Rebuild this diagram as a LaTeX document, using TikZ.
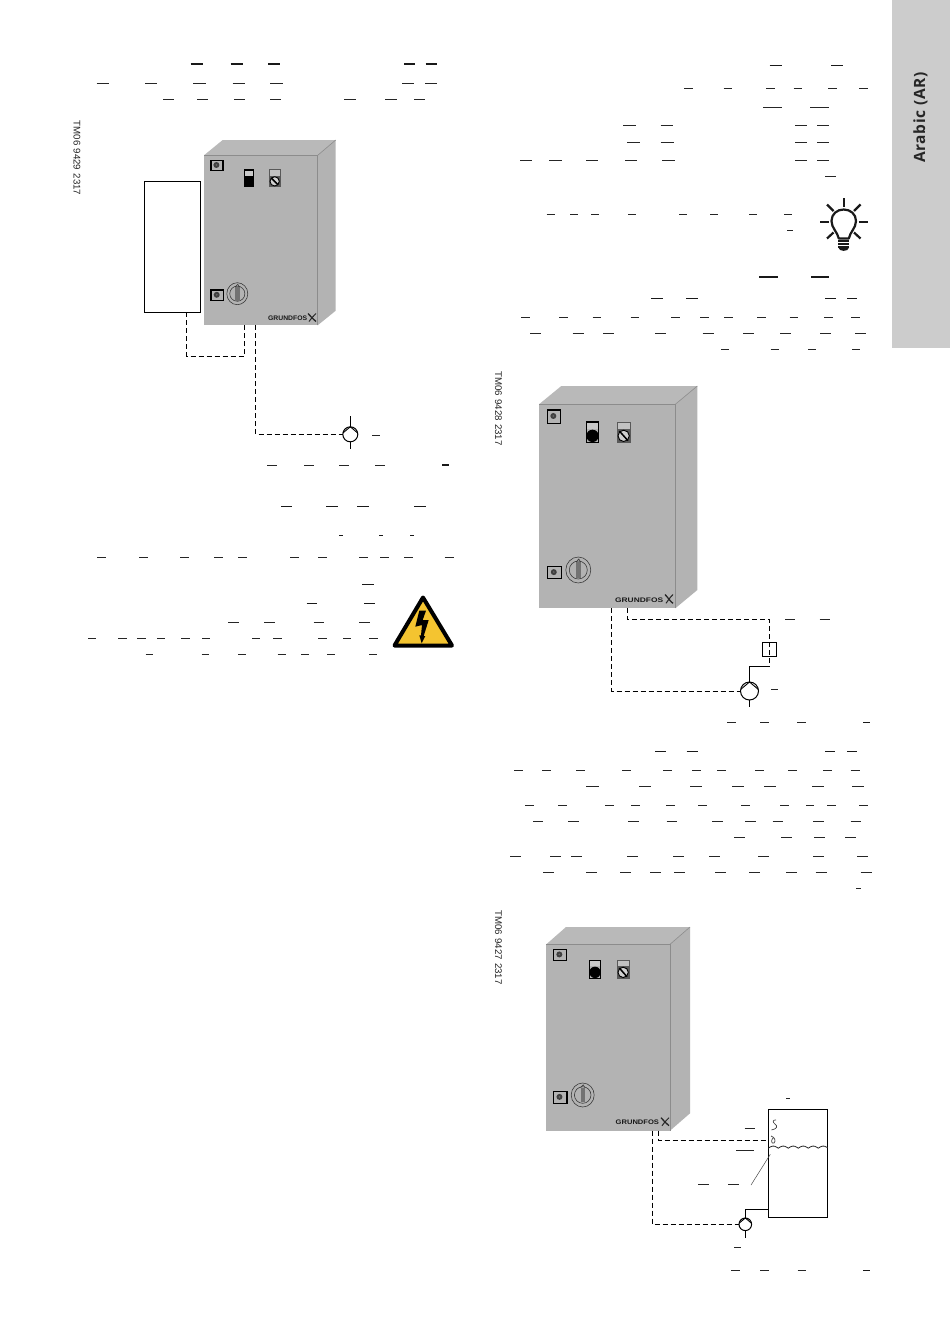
\documentclass[tikz,border=0pt]{standalone}
\usepackage{fontspec}
\usepackage{graphicx}
\setmainfont{Liberation Sans}
\newfontfamily\tabfont[LetterSpace=4]{Open Sans}
\usetikzlibrary{calc}
\definecolor{cabgray}{HTML}{B3B3B3}
\definecolor{cabedge}{HTML}{8C8C8C}
\definecolor{tabgray}{HTML}{CCCCCC}
\definecolor{warnyellow}{HTML}{F4C430}
\tikzset{
  txtdash/.style={line width=0.9pt,black!85},
  txtdashb/.style={line width=1.5pt,black!90},
  wire/.style={line width=0.9pt,black,dash pattern=on 5pt off 3pt},
  pipe/.style={line width=1pt,black},
  cabfront/.style={fill=cabgray,inner sep=0,outer sep=0},
  codetext/.style={rotate=-90,font=\fontsize{9.7}{10}\selectfont,text=black!85,inner sep=0},
  pumpsym/.style={circle,draw=black,fill=white,line width=1pt,inner sep=0,outer sep=0},
  boxw/.style={draw=black,fill=white,line width=1pt,inner sep=0,outer sep=0},
  ctrlline/.style={line width=0.55pt,black!80},
  chevron/.style={line width=0.9pt,black}
}
% #1 left #2 right #3 top #4 bottom #5 back-left #6 back-right #7 back-top #8 back-bottom #9 name
\newcommand\cabinetbody[9]{
  \fill[cabgray!92!white] (#1,#3) -- (#5,#7) -- (#6,#7) -- (#2,#3) -- cycle;
  \fill[cabgray] (#2,#3) -- (#6,#7) -- (#6,#8) -- (#2,#4) -- cycle;
  \node[cabfront,anchor=north west,minimum width={#2-#1},minimum height={#4-#3}] (#9) at (#1,#3) {};
  \draw[cabedge,line width=0.8pt] (#1,#3) -- (#2,#3) -- (#2,#4);
  \draw[cabedge,line width=0.6pt] (#2,#3) -- (#6,#7);
}
% x0 y0 x1 y1
\newcommand\sqbtn[4]{
  \draw[black,line width=1.2pt,fill=cabgray] (#1,#2) rectangle (#3,#4);
  \fill[black!75] ($(#1,#2)!0.45!(#3,#4)$) circle (3);
  \fill[cabgray!60!black] ($(#1,#2)!0.45!(#3,#4)$) circle (0.9);
}
\newcommand\indicatorbar[5]{
  \fill[cabgray!70!white] (#1,#2) rectangle (#3,#5);
  \fill[black] (#1,#5) rectangle (#3,#4);
  \draw[black,line width=1.1pt] (#1,#2) rectangle (#3,#4);
}
\newcommand\indicatorround[5]{
  \fill[cabgray!70!white] (#1,#2) rectangle (#3,#5);
  \draw[black,line width=1.1pt] (#1,#2) rectangle (#3,#4);
  \fill[black] ({(#1+#3)/2},{(#5+#4)/2}) circle ({(#3-#1)/2});
}
\newcommand\gaugesym[5]{
  \fill[cabgray!80!white] (#1,#2) rectangle (#3,#5);
  \fill[cabgray!50!black] (#1,#5) rectangle (#3,#4);
  \draw[black!65,line width=1pt] (#1,#2) rectangle (#3,#4);
  \draw[black,fill=cabgray!60!white,line width=0.9pt] ({(#1+#3)/2},{(#5+#4)/2}) circle ({(#3-#1)/2-0.7});
  \draw[black,line width=1.5pt] ({#1+2},{#5+2}) -- ({#3-2},{#4-2});
}
% cx cy rx ry
\newcommand\knobsym[4]{
  \draw[ctrlline] (#1,#2) ellipse ({#3} and {#4});
  \draw[ctrlline] (#1,#2) circle ({#3*0.72});
  \fill[black!55] ({#1-2.2},{#2-#4*0.62}) rectangle ({#1+2.2},{#2+#4*0.62});
  \draw[ctrlline] ({#1-2.2},{#2-#4*0.62}) -- ({#1+0.5},{#2-#4*0.85}) -- ({#1+2.2},{#2-#4*0.62});
}
\newcommand\logosym[7]{
  \node[inner sep=0,text=black!90] at ({(#1+#2)/2},#3) {\resizebox{#4pt}{4.6pt}{\textbf{GRUNDFOS}}};
  \draw[black!85,line width=1.3pt] (#5,#6) .. controls ({#5+3},{#6+3}) and ({#5+5},{#7-2}) .. ({#5+8},#7);
  \draw[black!85,line width=1pt] ({#5+8},#6) .. controls ({#5+5},{#6+3}) and ({#5+3},{#7-3}) .. ({#5+1},#7);
}
\newcommand\txt[3]{\foreach \a/\b in {#3} {\draw[#1] (\a,#2) -- (\b,#2);}}
\begin{document}
\begin{tikzpicture}[x=1pt,y=-1pt]
\useasboundingbox (0,0) rectangle (950,1344);
\fill[white] (0,0) rectangle (950,1344);
% side tab
\fill[tabgray] (891.7,0) rectangle (950,348);
\node[rotate=90,inner sep=0,text=black!85,font=\tabfont\bfseries\fontsize{15.5}{18}\selectfont] (tabtext) at (920.5,117.5) {Arabic (AR)};

% --- cabinet 1
\node[codetext] (code1) at (77,158) {TM06\,\,9429\,\,2317};
\cabinetbody{204}{317.7}{155.3}{325.3}{222.7}{335.7}{140}{310.7}{cab1}
\sqbtn{211}{160.3}{223}{170.7}
\indicatorbar{244.3}{170}{253.7}{186.7}{176}
\gaugesym{269.3}{169.3}{280}{186.7}{176}
\sqbtn{211}{290}{223.7}{300.7}
\knobsym{237.3}{293.7}{10.5}{11}
\logosym{268}{307.3}{318.7}{39}{308}{313.5}{321.5}
\node[boxw,anchor=north west,minimum width=56pt,minimum height=131pt] (ctrl1) at (144.3,181.3) {};
\node[pumpsym,minimum size=15pt] (pump1) at (350.3,434.3) {};
\draw[chevron] (pump1.170) -- (pump1.north) -- (pump1.10);
\coordinate (a1) at (186.3,312.3);
\coordinate (a2) at (186.3,356);
\coordinate (a3) at (244.7,356);
\coordinate (a4) at (244.7,325.3);
\coordinate (a5) at (255.7,325.3);
\coordinate (a6) at (255.7,434.3);
\coordinate (p1t) at (350.3,416);
\coordinate (p1b) at (350.3,449);
\draw[wire] (a1) -- (a2) -- (a3) -- (a4);
\draw[wire] (a5) -- (a6) -- (pump1.west);
\draw[pipe] (p1t) -- (pump1.north);
\draw[pipe] (pump1.south) -- (p1b);

% text lines, left column
\txt{txtdashb}{64}{190.7/202.7,230.7/242.7,268/280,404/414.7,425.7/436.7}
\txt{txtdash}{83}{96.7/108.7,145/157,193.3/205.7,232.7/245,270/282.7,402.3/414,425/437.3}
\txt{txtdash}{99.3}{163.3/174.3,197/208,234/245,270/280.7,344.3/356,385/396.7,414/425.3}
\txt{txtdash}{435.7}{372.3/379.7}
\txt{txtdash}{465}{267.3/277.3,304/314,339/349,375.3/385.3}
\txt{txtdashb}{465}{442.3/449.3}
\txt{txtdashb}{506.7}{281/292.3,326.3/337.7,357.3/368.7,414.3/425.7}
\txt{txtdashb}{535.7}{339.3/343,379.3/383,410/413.7}
\txt{txtdash}{557.7}{97/106,139.3/148.3,180/189.3,214.3/223.3,238.3/247.3,290.3/299.3,318.3/327.3,359.3/368.3,380.3/389.3,404/413,444.7/453.7}
\txt{txtdashb}{584.3}{362/374}
\txt{txtdashb}{603.3}{306.7/317,364.3/374.7}
\txt{txtdash}{622.7}{228.3/239.3,264.3/275,313.7/324.3,359/369.7}
\txt{txtdash}{638.3}{88/96,118/126.7,137/145.7,157/165.3,181/189.7,202/210.3,252/260.3,273/281.7,318.3/326.7,343/351.3,369.3/377.7}
\txt{txtdash}{654.3}{145.7/153.3,201.7/209.3,238.3/246,277.7/285.7,301.3/309,327.3/335,369/376.7}

% warning sign
\draw[black,line width=4pt,line join=round,fill=warnyellow] (423,597.5) -- (394.5,645.5) -- (452,645.5) -- cycle;
\fill[black] (419.3,610.7) -- (426,610.7) -- (422.7,620) -- (428.7,620) -- (423.7,636) -- (425.3,636) -- (421.7,643.3) -- (419.3,635.3) -- (421,635.3) -- (422,625) -- (415.3,626.7) -- cycle;

% text lines, right column top
\txt{txtdashb}{65.7}{769.7/781.7,831.3/843}
\txt{txtdash}{88.7}{684.3/692.7,723.7/732.3,766.3/775,793.7/802,828/836.7,859.3/868}
\txt{txtdash}{107.7}{763/782.3,810/829.3}
\txt{txtdash}{125.7}{623.3/636,660.7/673.3,795/806.7,817.3/829}
\txt{txtdash}{142.3}{627.3/640.3,660.7/673.7,795/806.7,817.3/829}
\txt{txtdash}{160.3}{520/532,549.3/561.7,586/598.3,625.3/637.3,662.3/674.7,795/806.7,817.3/829}
\txt{txtdash}{176.7}{825/835.7}
\txt{txtdash}{214.7}{546.7/554.7,570.3/578,591/599,628/636,679.3/687,710.3/718.3,749/756.7,784.3/792}
\txt{txtdash}{230.7}{787.3/793}
\txt{txtdashb}{277}{759.3/777.7,811.3/829.3}
\txt{txtdashb}{298.3}{651/663,686.3/698,825.3/835.7,847/857.3}
\txt{txtdash}{317.7}{521.3/529.7,559/567.7,592.7/601,630.7/639,671.3/680,700.3/708.7,724.3/732.7,757.3/765.7,789.7/798,824.3/832.7,851.3/859.7}
\txt{txtdash}{333.7}{530/541,572.7/583.7,603.3/614.3,655/666,702.7/713.7,743.3/754.3,780.3/791.3,820.3/831.3,855.3/866.3}
\txt{txtdash}{349.7}{721/729.3,770.7/779,808/816.3,852/860.3}

% light bulb
\draw[black!90,line width=2.2pt,line cap=butt] (843.7,198) -- (843.7,206.7);
\draw[black!90,line width=2.2pt] (820,221.7) -- (829,221.7);
\draw[black!90,line width=2.2pt] (858.7,221.7) -- (867.7,221.7);
\draw[black!90,line width=2.2pt] (827,204.5) -- (833.5,211);
\draw[black!90,line width=2.2pt] (860.5,204.5) -- (854,211);
\draw[black!90,line width=2.2pt] (827,238.5) -- (833.5,232.5);
\draw[black!90,line width=2.2pt] (860.5,238.5) -- (854,232.5);
\draw[black!90,line width=2.2pt,line join=round] (838.8,238.5) .. controls (837.5,232) and (831.5,228) .. (831.5,221) .. controls (831.5,214) and (837,209.5) .. (843.7,209.5) .. controls (850.4,209.5) and (856,214) .. (856,221) .. controls (856,228) and (850,232) .. (848.8,238.5) -- cycle;
\foreach \yy in {240.6,243.6,246.6} {\draw[black!90,line width=2.2pt] (838,\yy) -- (849.4,\yy);}
\fill[black!90] (838.3,247.5) .. controls (839,252) and (848.4,252) .. (849.1,247.5) -- cycle;

% --- cabinet 2
\node[codetext] (code2) at (498.5,408.5) {TM06\,\,9428\,\,2317};
\cabinetbody{539}{675.3}{404.3}{608.3}{561.3}{697.3}{386}{590}{cab2}
\sqbtn{547.3}{410}{560.7}{423.3}
\indicatorround{586.3}{422}{598.7}{442.7}{429}
\gaugesym{617.3}{422}{630}{442.7}{429}
\sqbtn{547.3}{566.7}{561.7}{578.7}
\knobsym{578.3}{570}{12.5}{13}
\logosym{615}{663.3}{600.3}{48}{665}{594.5}{603.3}
\node[pumpsym,minimum size=18pt] (pump2) at (749.5,691) {};
\draw[chevron] (pump2.170) -- (pump2.north) -- (pump2.10);
\node[draw=black,line width=1pt,minimum width=14.4pt,minimum height=14pt,inner sep=0,outer sep=0] (flow2) at (769.5,649.3) {};
\coordinate (b1) at (611.3,608.3);
\coordinate (b2) at (611.3,691);
\coordinate (b3) at (627.3,608.3);
\coordinate (b4) at (627.3,619.3);
\coordinate (b5) at (769.3,619.3);
\coordinate (b6) at (769.3,666.7);
\coordinate (b7) at (749.5,666.7);
\coordinate (p2b) at (749.5,707.3);
\draw[wire] (b1) -- (b2) -- (pump2.west);
\draw[wire] (b3) -- (b4) -- (b5) -- (b6);
\draw[pipe] (b6) -- (b7) -- (pump2.north);
\draw[pipe] (pump2.south) -- (p2b);
\txt{txtdash}{619.3}{785.3/795.3,819.7/829.7}
\txt{txtdash}{689.3}{771/778.3}
\txt{txtdash}{722.3}{727.3/736.3,760.3/769.3,797.3/806.3}
\txt{txtdashb}{722.3}{863/870}

% text block middle right
\txt{txtdashb}{751.3}{655.3/666.3,686.7/698,825/835.3,847/857}
\txt{txtdash}{770.7}{514/523,542.3/551.3,576/585.3,622/631,663.3/672.3,692.3/701.3,717/726,755/764,788.3/797.3,823/832,850.7/859.7}
\txt{txtdash}{786.7}{586.3/598.7,639.3/651.3,690/702,732.3/744.3,764.3/776.3,812/824,852/864}
\txt{txtdash}{805.7}{525/533.7,558/566.7,605.3/614,631.3/639.7,666/675,698.3/707,741.3/750,780/788.7,806/814,827.3/836,859.3/868}
\txt{txtdash}{821.7}{533/543.3,568/578.7,628.3/638.7,666.7/677.3,712.3/723,745.3/756,772.7/783.3,813.3/824,850.7/861.3}
\txt{txtdash}{837.7}{734/744.7,781.3/792,814.3/825.3,845.3/856}
\txt{txtdash}{856.7}{510.3/521.3,550/560.7,571.3/582.3,627/638,673.3/684,709/720,758.3/769,813/823.7,857.3/868}
\txt{txtdash}{872.7}{543/554,586/597,620.3/631.3,650.3/661,674/685,715/725.7,749.3/760.3,786.3/797.3,815.7/826.7,860.7/871.7}
\txt{txtdash}{888.7}{856/860.7}

% --- cabinet 3
\node[codetext] (code3) at (498.5,947.5) {TM06\,\,9427\,\,2317};
\cabinetbody{546.3}{670}{944.3}{1130.7}{566}{690}{927}{1113.3}{cab3}
\sqbtn{553.3}{949.3}{566.7}{960.7}
\indicatorround{589.3}{960.3}{600.7}{978.7}{966}
\gaugesym{617.3}{960}{629}{978.7}{966}
\sqbtn{553.3}{1091.3}{567}{1103.7}
\knobsym{582.7}{1095}{11.5}{12}
\logosym{615.7}{659}{1122.7}{43.3}{661}{1117.7}{1125.7}
\node[boxw,line width=0.9pt,anchor=north west,minimum width=59.4pt,minimum height=108pt] (tank3) at (768.3,1109.3) {};
\draw[black!85,line width=0.8pt] plot[domain=768.3:827.7,samples=120] (\x,{1148.2-2.1*abs(sin((\x-768.3)*18))});
\draw[black!75,line width=0.7pt] (771.5,1130) .. controls (777,1129) and (778,1126) .. (775,1124) .. controls (772,1122) and (773,1119.5) .. (776,1120);
\draw[black!75,line width=0.7pt] (771,1136) .. controls (775,1137) and (776,1141) .. (774,1143) .. controls (771,1144) and (771,1140) .. (773,1138);
\node[pumpsym,minimum size=12.6pt] (pump3) at (745.3,1224.3) {};
\draw[chevron] (pump3.170) -- (pump3.north) -- (pump3.10);
\coordinate (c1) at (652.3,1130.7);
\coordinate (c2) at (652.3,1224.3);
\coordinate (c3) at (658.3,1130.7);
\coordinate (c4) at (658.3,1140.3);
\coordinate (c5) at (768.3,1140.3);
\coordinate (c6) at (768.3,1209.3);
\coordinate (c7) at (745.3,1209.3);
\coordinate (p3b) at (745.3,1238.3);
\coordinate (l1) at (751,1185);
\coordinate (l2) at (770.3,1154.3);
\draw[wire] (c1) -- (c2) -- (pump3.west);
\draw[wire] (c3) -- (c4) -- (c5);
\draw[pipe] (c6) -- (c7) -- (pump3.north);
\draw[pipe] (pump3.south) -- (p3b);
\draw[black!70,line width=0.5pt] (l1) -- (l2);
\txt{txtdash}{1098.7}{786.3/789.7}
\txt{txtdash}{1128.7}{744.7/755.3}
\txt{txtdash}{1150.7}{736/754.3}
\txt{txtdash}{1184.3}{698.3/708.7,728.3/739}
\txt{txtdash}{1247.7}{734/741.3}
\txt{txtdash}{1270.3}{731.3/740.3,760.3/769.3,797.7/806.3}
\txt{txtdashb}{1270.3}{863/870}
\end{tikzpicture}
\end{document}
